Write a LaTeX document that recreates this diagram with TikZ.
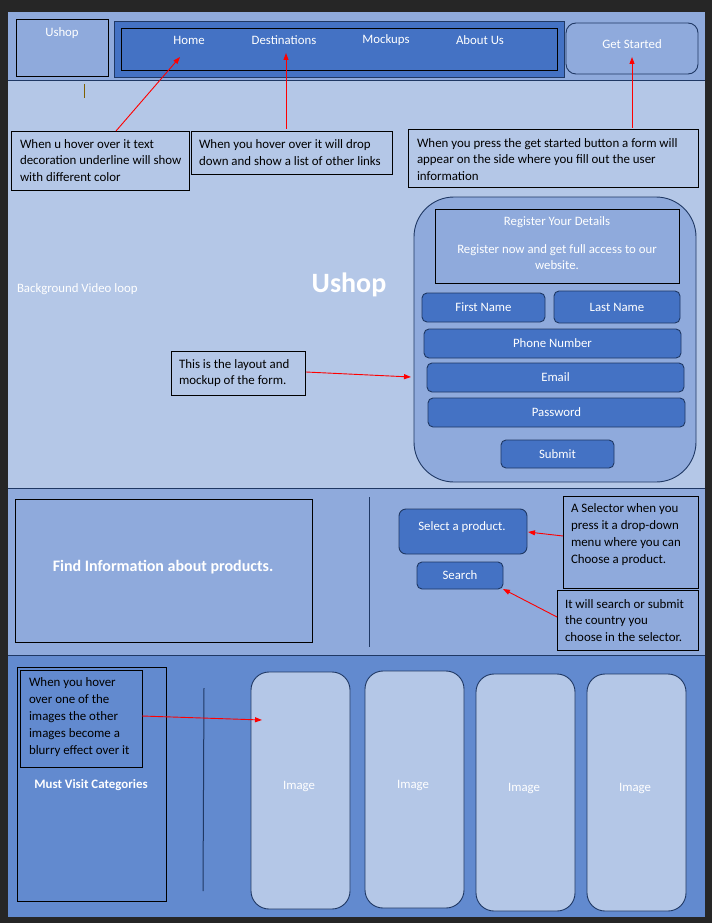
\documentclass[tikz,border=0pt]{standalone}
\usepackage{fontspec}
\setmainfont{Carlito}
\usetikzlibrary{arrows.meta}
\definecolor{frame}{HTML}{262626}
\definecolor{hdr}{HTML}{8FAADC}
\definecolor{hero}{HTML}{B4C7E7}
\definecolor{secfour}{HTML}{628ACF}
\definecolor{acc}{HTML}{4472C4}
\definecolor{navy}{HTML}{1F3864}
\definecolor{cursorc}{HTML}{7F6000}
\newcommand\fs[2]{\fontsize{#1}{#2}\selectfont}
\newcommand\bnode[7]{\node[#1, minimum width={#5-#3}, minimum height={#6-#4}] (#2) at ({(#3+#5)/2},{(#4+#6)/2}) {#7};}
\tikzset{
  every node/.style={inner sep=0pt, outer sep=0pt},
  plainbox/.style={draw=black, line width=0.9pt},
  navbox/.style={draw=navy, line width=0.9pt},
  btn/.style={draw=navy, line width=0.9pt, fill=acc, rounded corners=5pt, text=white, font=\fs{12.8}{14}},
  imgbox/.style={draw=navy, line width=0.9pt, fill=hero, rounded corners=18pt},
  wlabel/.style={text=white, font=\fs{12.8}{14}},
  ctext/.style={anchor=west, align=left, text=black, font=\fs{12.9}{16.8}},
  redarrow/.style={draw=red, line width=0.9pt, -{Triangle[length=7pt,width=5pt]}},
  divider/.style={draw=navy, line width=1pt},
}
\begin{document}
\begin{tikzpicture}[x=1pt,y=-1pt]
\useasboundingbox (0,0) rectangle (712,923);
% frame and sections
\fill[frame] (0,0) rectangle (712,923);
\fill[hdr] (8,12) rectangle (705,81);
\fill[hero] (8,81) rectangle (705,488);
\fill[hdr] (8,488) rectangle (705,655);
\fill[secfour] (8,655) rectangle (705,917);
\coordinate (l1a) at (8,81); \coordinate (l1b) at (705,81);
\coordinate (l2a) at (8,488); \coordinate (l2b) at (705,488);
\coordinate (l3a) at (8,655); \coordinate (l3b) at (705,655);
\draw[divider] (l1a) -- (l1b);
\draw[divider] (l2a) -- (l2b);
\draw[divider] (l3a) -- (l3b);

% header
\bnode{plainbox, fill=hdr}{logo}{16}{19}{108}{76}{}
\node[wlabel] (logotxt) at (62,33) {Ushop};
\bnode{navbox, fill=acc}{navouter}{114}{21}{564}{77}{}
\bnode{plainbox}{navinner}{121}{28}{557}{70}{}
\node[wlabel] (home) at (189,40) {Home};
\node[wlabel] (dest) at (284,40) {Destinations};
\node[wlabel] (mock) at (386,40) {Mockups};
\node[wlabel] (about) at (480,40) {About Us};
\bnode{navbox, fill=hdr, rounded corners=10pt}{getstarted}{566}{23}{698}{74}{}
\node[wlabel] (gst) at (632,44) {Get Started};
\coordinate (cura) at (84,84); \coordinate (curb) at (84,98);
\draw[cursorc, line width=1pt] (cura) -- (curb);

% callouts top
\bnode{plainbox}{c1}{11}{131}{189}{190}{}
\node[ctext] (c1t) at (20,160.5) {When u hover over it text\\decoration underline will show\\with different color};
\bnode{plainbox}{c2}{191}{131}{392}{174}{}
\node[ctext] (c2t) at (199,152.5) {When you hover over it will drop\\down and show a list of other links};
\bnode{plainbox}{c3}{408}{129}{698}{187}{}
\node[ctext] (c3t) at (417,159.5) {When you press the get started button a form will\\appear on the side where you fill out the user\\information};
\coordinate (a1s) at (116,131); \coordinate (a1e) at (180,57);
\draw[redarrow] (a1s) -- (a1e);
\coordinate (a2s) at (286,129); \coordinate (a2e) at (286,53);
\draw[redarrow] (a2s) -- (a2e);
\coordinate (a3s) at (632,128); \coordinate (a3e) at (632,57);
\draw[redarrow] (a3s) -- (a3e);

% hero
\node[wlabel, anchor=west] (bgvideo) at (17,289) {Background Video loop};
\node[text=white, font=\bfseries\fs{28}{32}] (herotitle) at (349,285) {Ushop};
\bnode{plainbox}{c4}{171}{351}{305}{395}{}
\node[ctext] (c4t) at (179,373) {This is the layout and\\mockup of the form.};

% form
\bnode{navbox, fill=hdr, rounded corners=40pt}{form}{414}{197}{696}{482}{}
\bnode{plainbox}{reg}{435}{209}{679}{283}{}
\node[wlabel] (regt1) at (557,222) {Register Your Details};
\node[wlabel, align=center, font=\fs{12.8}{16}] (regt2) at (557,257) {Register now and get full access to our\\website.};
\bnode{btn}{fname}{422}{293}{545}{322}{First Name}
\bnode{btn}{lname}{554}{291}{680}{323}{Last Name}
\bnode{btn}{phone}{424}{329}{681}{358}{Phone Number}
\bnode{btn}{email}{427}{363}{684}{392}{Email}
\bnode{btn}{pass}{428}{398}{685}{427}{Password}
\bnode{btn}{submit}{501}{440}{614}{468}{Submit}
\coordinate (a4s) at (306,372); \coordinate (a4e) at (411,377);
\draw[redarrow] (a4s) -- (a4e);

% products section
\bnode{plainbox}{findinfo}{15}{499}{312}{642}{}
\node[text=white, font=\bfseries\fs{16}{18}] (findt) at (163,567) {Find Information about products.};
\coordinate (v1a) at (369,497); \coordinate (v1b) at (369,647);
\draw[draw=navy, line width=1pt] (v1a) -- (v1b);
\bnode{btn, rounded corners=7pt}{select}{399}{509}{527}{554}{}
\node[wlabel] (selt) at (462,527) {Select a product.};
\bnode{btn}{search}{417}{562}{503}{589}{Search}
\bnode{plainbox}{c5}{563}{496}{698}{588}{}
\node[ctext] (c5t) at (571,534.5) {A Selector when you\\press it a drop-down\\menu where you can\\Choose a product.};
\bnode{plainbox}{c6}{557}{590}{698}{650}{}
\node[ctext] (c6t) at (565,620.5) {It will search or submit\\the country you\\choose in the selector.};
\coordinate (a5s) at (563,536); \coordinate (a5e) at (528,532);
\draw[redarrow] (a5s) -- (a5e);
\coordinate (a6s) at (557,617); \coordinate (a6e) at (503,589);
\draw[redarrow] (a6s) -- (a6e);

% bottom section
\bnode{plainbox}{mustvisit}{17}{667}{166}{901}{}
\bnode{plainbox}{c7}{20}{670}{142}{767}{}
\node[ctext] (c7t) at (29,717) {When you hover\\over one of the\\images the other\\images become a\\blurry effect over it};
\node[text=white, font=\bfseries\fs{12.9}{14}] (mvt) at (91,785) {Must Visit Categories};
\coordinate (v2a) at (204,688); \coordinate (v2b) at (203,891);
\draw[draw=navy, line width=1pt] (v2a) -- (v2b);
\bnode{imgbox}{img1}{251}{672}{350}{909}{}
\node[wlabel] (img1t) at (299,786) {Image};
\bnode{imgbox}{img2}{365}{671}{464}{908}{}
\node[wlabel] (img2t) at (413,785) {Image};
\bnode{imgbox}{img3}{476}{674}{575}{911}{}
\node[wlabel] (img3t) at (524,788) {Image};
\bnode{imgbox}{img4}{587}{674}{686}{911}{}
\node[wlabel] (img4t) at (635,788) {Image};
\coordinate (a7s) at (142,716); \coordinate (a7e) at (262,720);
\draw[redarrow] (a7s) -- (a7e);
\end{tikzpicture}
\end{document}
